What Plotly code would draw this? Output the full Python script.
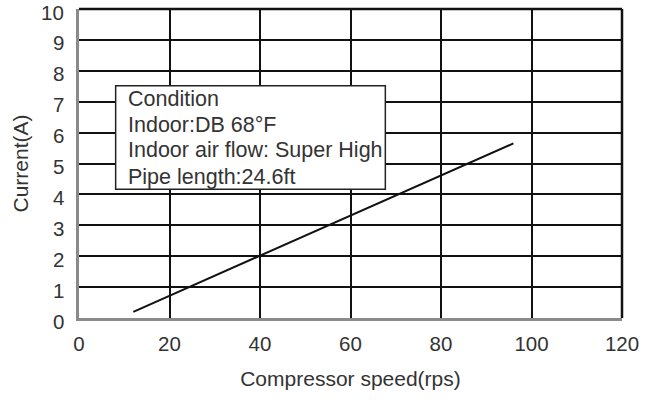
import plotly.graph_objects as go

speed = [12, 96]
current = [0.2, 5.65]
x_ticks = [0, 20, 40, 60, 80, 100, 120]
y_ticks = list(range(0, 11))
box_lines = ["Condition", "Indoor:DB 68°F", "Indoor air flow: Super High", "Pipe length:24.6ft"]

fig = go.Figure()
fig.add_trace(go.Scatter(x=speed, y=current, mode="lines",
                         line=dict(color="#111111", width=2), showlegend=False))

fam = "Liberation Sans, Arial, sans-serif"
tick_font = dict(family=fam, size=20.5, color="#333333")
title_font = dict(family=fam, size=21, color="#333333")
box_font = dict(family=fam, size=21.5, color="#333333")

W, H = 657, 400
L, R, T, B = 79, 35, 9, 82

fig.update_layout(
    width=W, height=H,
    margin=dict(l=L, r=R, t=T, b=B, autoexpand=False),
    paper_bgcolor="white", plot_bgcolor="white",
    xaxis=dict(range=[0, 120], tickvals=x_ticks, showgrid=True, gridcolor="#111111", gridwidth=1.5,
               zeroline=False, showline=True, linecolor="#8a8a8a", linewidth=3,
               ticks="", ticklabelstandoff=5, tickfont=tick_font, automargin=False,
               ticklabeloverflow="allow",
               title=dict(text="Compressor speed(rps)", font=title_font, standoff=18)),
    yaxis=dict(range=[0, 10], tickvals=y_ticks, showgrid=True, gridcolor="#111111", gridwidth=1.5,
               zeroline=False, showline=True, linecolor="#8a8a8a", linewidth=3,
               ticks="", showticklabels=False, automargin=False),
)

# y tick labels (slightly below their gridlines, as in the reference)
for v in y_ticks:
    fig.add_annotation(xref="paper", yref="y", x=0, y=v, text=str(v), showarrow=False,
                       xanchor="right", yanchor="middle", xshift=-13, yshift=-3,
                       font=tick_font)

# y axis title
fig.add_annotation(xref="paper", yref="paper", x=-(L - 20) / (W - L - R), y=0.5,
                   text="Current(A)", textangle=-90, showarrow=False,
                   xanchor="center", yanchor="middle", font=title_font)

# top and right borders
fig.add_shape(type="line", xref="paper", yref="paper", x0=0, x1=1, y0=1, y1=1,
              line=dict(color="#111111", width=2.5))
fig.add_shape(type="line", xref="paper", yref="paper", x0=1, x1=1, y0=0, y1=1,
              line=dict(color="#111111", width=2.5))

# condition box
fig.add_shape(type="rect", xref="x", yref="y", x0=8.1, x1=67.7, y0=4.17, y1=7.52,
              fillcolor="white", line=dict(color="#222222", width=1.5), layer="above")
ys = [7.10, 6.26, 5.45, 4.57]
for t, yy in zip(box_lines, ys):
    fig.add_annotation(x=10.3, y=yy, xref="x", yref="y", text=t, showarrow=False,
                       xanchor="left", yanchor="middle", font=box_font)

fig.write_html("out.html", config={"displayModeBar": False},
               post_script="document.body.style.margin='0';")
